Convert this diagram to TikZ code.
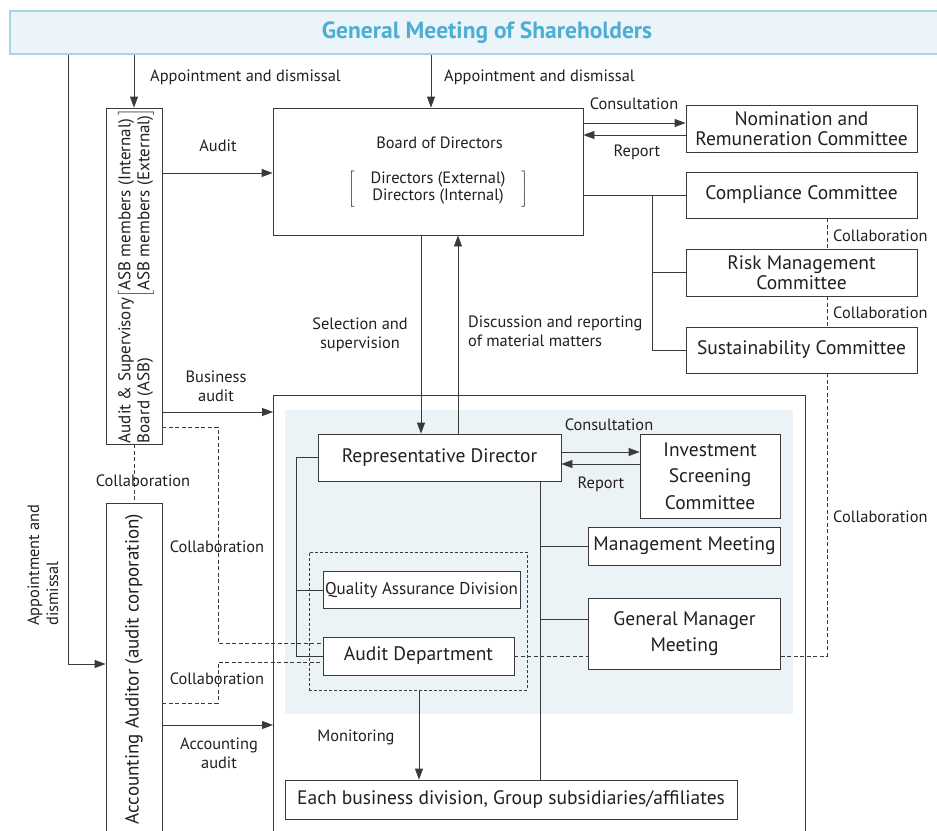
\documentclass[tikz,border=0pt]{standalone}
\usepackage{fontspec}
\setmainfont{PT Sans}
\usetikzlibrary{arrows.meta,calc}
\definecolor{bannerfill}{HTML}{EBF4F8}
\definecolor{bannerline}{HTML}{A6D3E6}
\definecolor{bannertext}{HTML}{4DAED5}
\definecolor{zonefill}{HTML}{EBF3F7}
\definecolor{ink}{HTML}{231F20}
\definecolor{frame}{HTML}{3A3A3A}
\begin{document}
\begin{tikzpicture}[x=1pt,y=-1pt,
  box/.style={draw=frame, line width=0.8pt, fill=white, inner sep=0pt, align=center,
    text=ink, font=\fontsize{19.5}{20}\selectfont},
  lbl/.style={text=ink, font=\fontsize{16.4}{19}\selectfont, inner sep=0pt, align=center},
  conn/.style={draw=frame, line width=0.8pt},
  arr/.style={conn, -{Triangle[length=11pt,width=8pt]}},
  dline/.style={conn, line width=0.7pt, dash pattern=on 4pt off 2.5pt},
  banner/.style={draw=bannerline, line width=1.2pt, fill=bannerfill, text=bannertext,
    font=\fontsize{23.5}{26}\selectfont\bfseries, inner sep=0pt}
]
\clip (0,0) rectangle (937,830);

% shaded executive zone and the open operations frame
\fill[zonefill] (285,410) rectangle (793,714);
\coordinate (opsW) at (273,395);
\draw[conn] (273,840) |- (805,395) -- (805,840);

% shareholders
\node[banner, minimum width=954, minimum height=43] (gm) at (487,32.5) {General Meeting of Shareholders};

% audit & supervisory board
\node[box, minimum width=56, minimum height=336] (asb) at (134,276) {};
\node[lbl, rotate=90, align=left, font=\fontsize{17}{19}\selectfont] (asbt) at (136,276)
  {\begin{tabular}{@{}l@{}}Audit \& Supervisory\\Board (ASB)\end{tabular}$\left[\begin{tabular}{@{}l@{}}ASB members (Internal)\\ASB members (External)\end{tabular}\right]$};

% accounting auditor
\node[box, minimum width=56, minimum height=332] (aa) at (134,669) {};
\node[lbl, rotate=90, font=\fontsize{19}{20}\selectfont] (aat) at (134,669) {Accounting Auditor (audit corporation)};

% board of directors
\node[box, minimum width=310, minimum height=127] (bod) at (428,171.5) {};
\node[lbl] (bodt) at (439.5,143) {Board of Directors};
\node[lbl, font=\fontsize{16.4}{17}\selectfont] (bodm) at (438,189) {$\left[\hspace{16pt}\begin{tabular}{@{}c@{}}Directors (External)\\Directors (Internal)\end{tabular}\hspace{16pt}\right]$};

% committees under the board
\node[box, minimum width=231, minimum height=47] (nom) at (801.5,128.5) {Nomination and\\Remuneration Committee};
\node[box, minimum width=231, minimum height=46] (cc) at (801.5,195) {Compliance Committee};
\node[box, minimum width=231, minimum height=47] (rm) at (801.5,272.5) {Risk Management\\Committee};
\node[box, minimum width=231, minimum height=46] (sus) at (801.5,350) {Sustainability Committee};

% executive bodies
\node[box, minimum width=243, minimum height=47] (rd) at (439.5,457.5) {Representative Director};
\node[box, minimum width=140, minimum height=84, font=\fontsize{19.5}{26.5}\selectfont] (isc) at (710,476) {Investment\\Screening\\Committee};
\node[box, minimum width=192, minimum height=38] (mm) at (684.5,546) {Management Meeting};
\node[box, minimum width=192, minimum height=71, font=\fontsize{19.5}{26}\selectfont] (gmm) at (684.5,633.5) {General Manager\\Meeting};

% internal audit group
\node[draw=frame, line width=0.7pt, dash pattern=on 3pt off 2pt, minimum width=218, minimum height=138, inner sep=0pt] (dbox) at (418,621) {};
\node[box, minimum width=197, minimum height=37, font=\fontsize{17}{20}\selectfont] (qad) at (421.5,590) {Quality Assurance Division};
\node[box, minimum width=191, minimum height=38] (ad) at (418.5,656) {Audit Department};

% business units
\node[box, minimum width=452, minimum height=39] (bb) at (511,799.5) {Each business division, Group subsidiaries/affiliates};

% helper columns
\coordinate (apx) at (68,0);
\coordinate (bapx) at (431,0);
\coordinate (ctap) at (652,0);
\coordinate (cx) at (827,0);
\coordinate (selx) at (421,0);
\coordinate (disx) at (458,0);
\coordinate (monx) at (419,0);
\coordinate (ltx) at (296,0);
\coordinate (rtx) at (540,0);
\coordinate (colx) at (218,0);

% appointment and dismissal
\draw[arr] (asb.north |- gm.south) -- (asb.north);
\draw[arr] (bapx |- gm.south) -- (bapx |- bod.north);
\draw[arr] (apx |- gm.south) |- (aa.west |- 0,664);
\node[lbl, anchor=west] (l1) at (150,77) {Appointment and dismissal};
\node[lbl, anchor=west] (l2) at (444,77) {Appointment and dismissal};
\node[lbl, rotate=90, align=left] (l3) at (43,565) {Appointment and\\dismissal};

% audit lines
\draw[arr] (asb.east |- 0,173) -- (bod.west |- 0,173);
\node[lbl] (l4) at (218,146) {Audit};
\draw[arr] (asb.east |- 0,412) -- (opsW |- 0,412);
\node[lbl] (l5) at (216,386) {Business\\audit};
\draw[arr] (aa.east |- 0,725) -- (opsW |- 0,725);
\node[lbl] (l6) at (219,753) {Accounting\\audit};

% board and nomination committee
\draw[arr] (bod.east |- 0,123) -- (nom.west |- 0,123);
\draw[arr] (nom.west |- 0,135) -- (bod.east |- 0,135);
\node[lbl] (l7) at (634,104) {Consultation};
\node[lbl] (l8) at (637,152) {Report};

% board and other committees
\draw[conn] (bod.east |- cc.west) -- (cc.west);
\draw[conn] (ctap |- cc.west) |- (rm.west);
\draw[conn] (ctap |- rm.west) |- (sus.west);
\draw[dline] (cx |- cc.south) -- (cx |- rm.north);
\draw[dline] (cx |- rm.south) -- (cx |- sus.north);
\node[lbl, anchor=west] (l9) at (833,236) {Collaboration};
\node[lbl, anchor=west] (l10) at (833,313) {Collaboration};
\draw[dline] (cx |- sus.south) |- (gmm.east |- ad.east);
\node[lbl, anchor=west] (l11) at (833,517) {Collaboration};

% board and representative director
\draw[arr] (selx |- bod.south) -- (selx |- rd.north);
\draw[arr] (disx |- rd.north) -- (disx |- bod.south);
\node[lbl] (l12) at (360,334.5) {Selection and\\supervision};
\node[lbl, align=left, anchor=west] (l13) at (468,331.5) {Discussion and reporting\\of material matters};

% representative director and investment screening
\draw[arr] (rd.east |- 0,452) -- (isc.west |- 0,452);
\draw[arr] (isc.west |- 0,464) -- (rd.east |- 0,464);
\node[lbl] (l14) at (609,425) {Consultation};
\node[lbl] (l15) at (601,484) {Report};

% executive tree
\draw[conn] (rtx |- rd.south) -- (rtx |- bb.north);
\draw[conn] (rtx |- mm.west) -- (mm.west);
\draw[conn] (rtx |- 0,619) -- (gmm.west |- 0,619);
\draw[conn] (rd.west) -| (ltx |- ad.west) -- (ad.west);
\draw[conn] (ltx |- qad.west) -- (qad.west);

% collaboration with internal audit
\draw[dline] (ad.east) -- (gmm.west |- ad.east);
\draw[dline] (asb.south) -- (aa.north);
\node[lbl] (l16) at (143,481) {Collaboration};
\draw[dline] (asb.east |- 0,427) -| (colx |- 0,643) -- (ad.west |- 0,643);
\node[lbl] (l17) at (217,547) {Collaboration};
\draw[dline] (aa.east |- 0,703) -| (colx |- 0,662) -- (ad.west |- 0,662);
\node[lbl] (l18) at (217,679) {Collaboration};

% monitoring
\draw[arr] (monx |- dbox.south) -- (monx |- bb.north);
\node[lbl] (l19) at (356,737) {Monitoring};
\end{tikzpicture}
\end{document}
